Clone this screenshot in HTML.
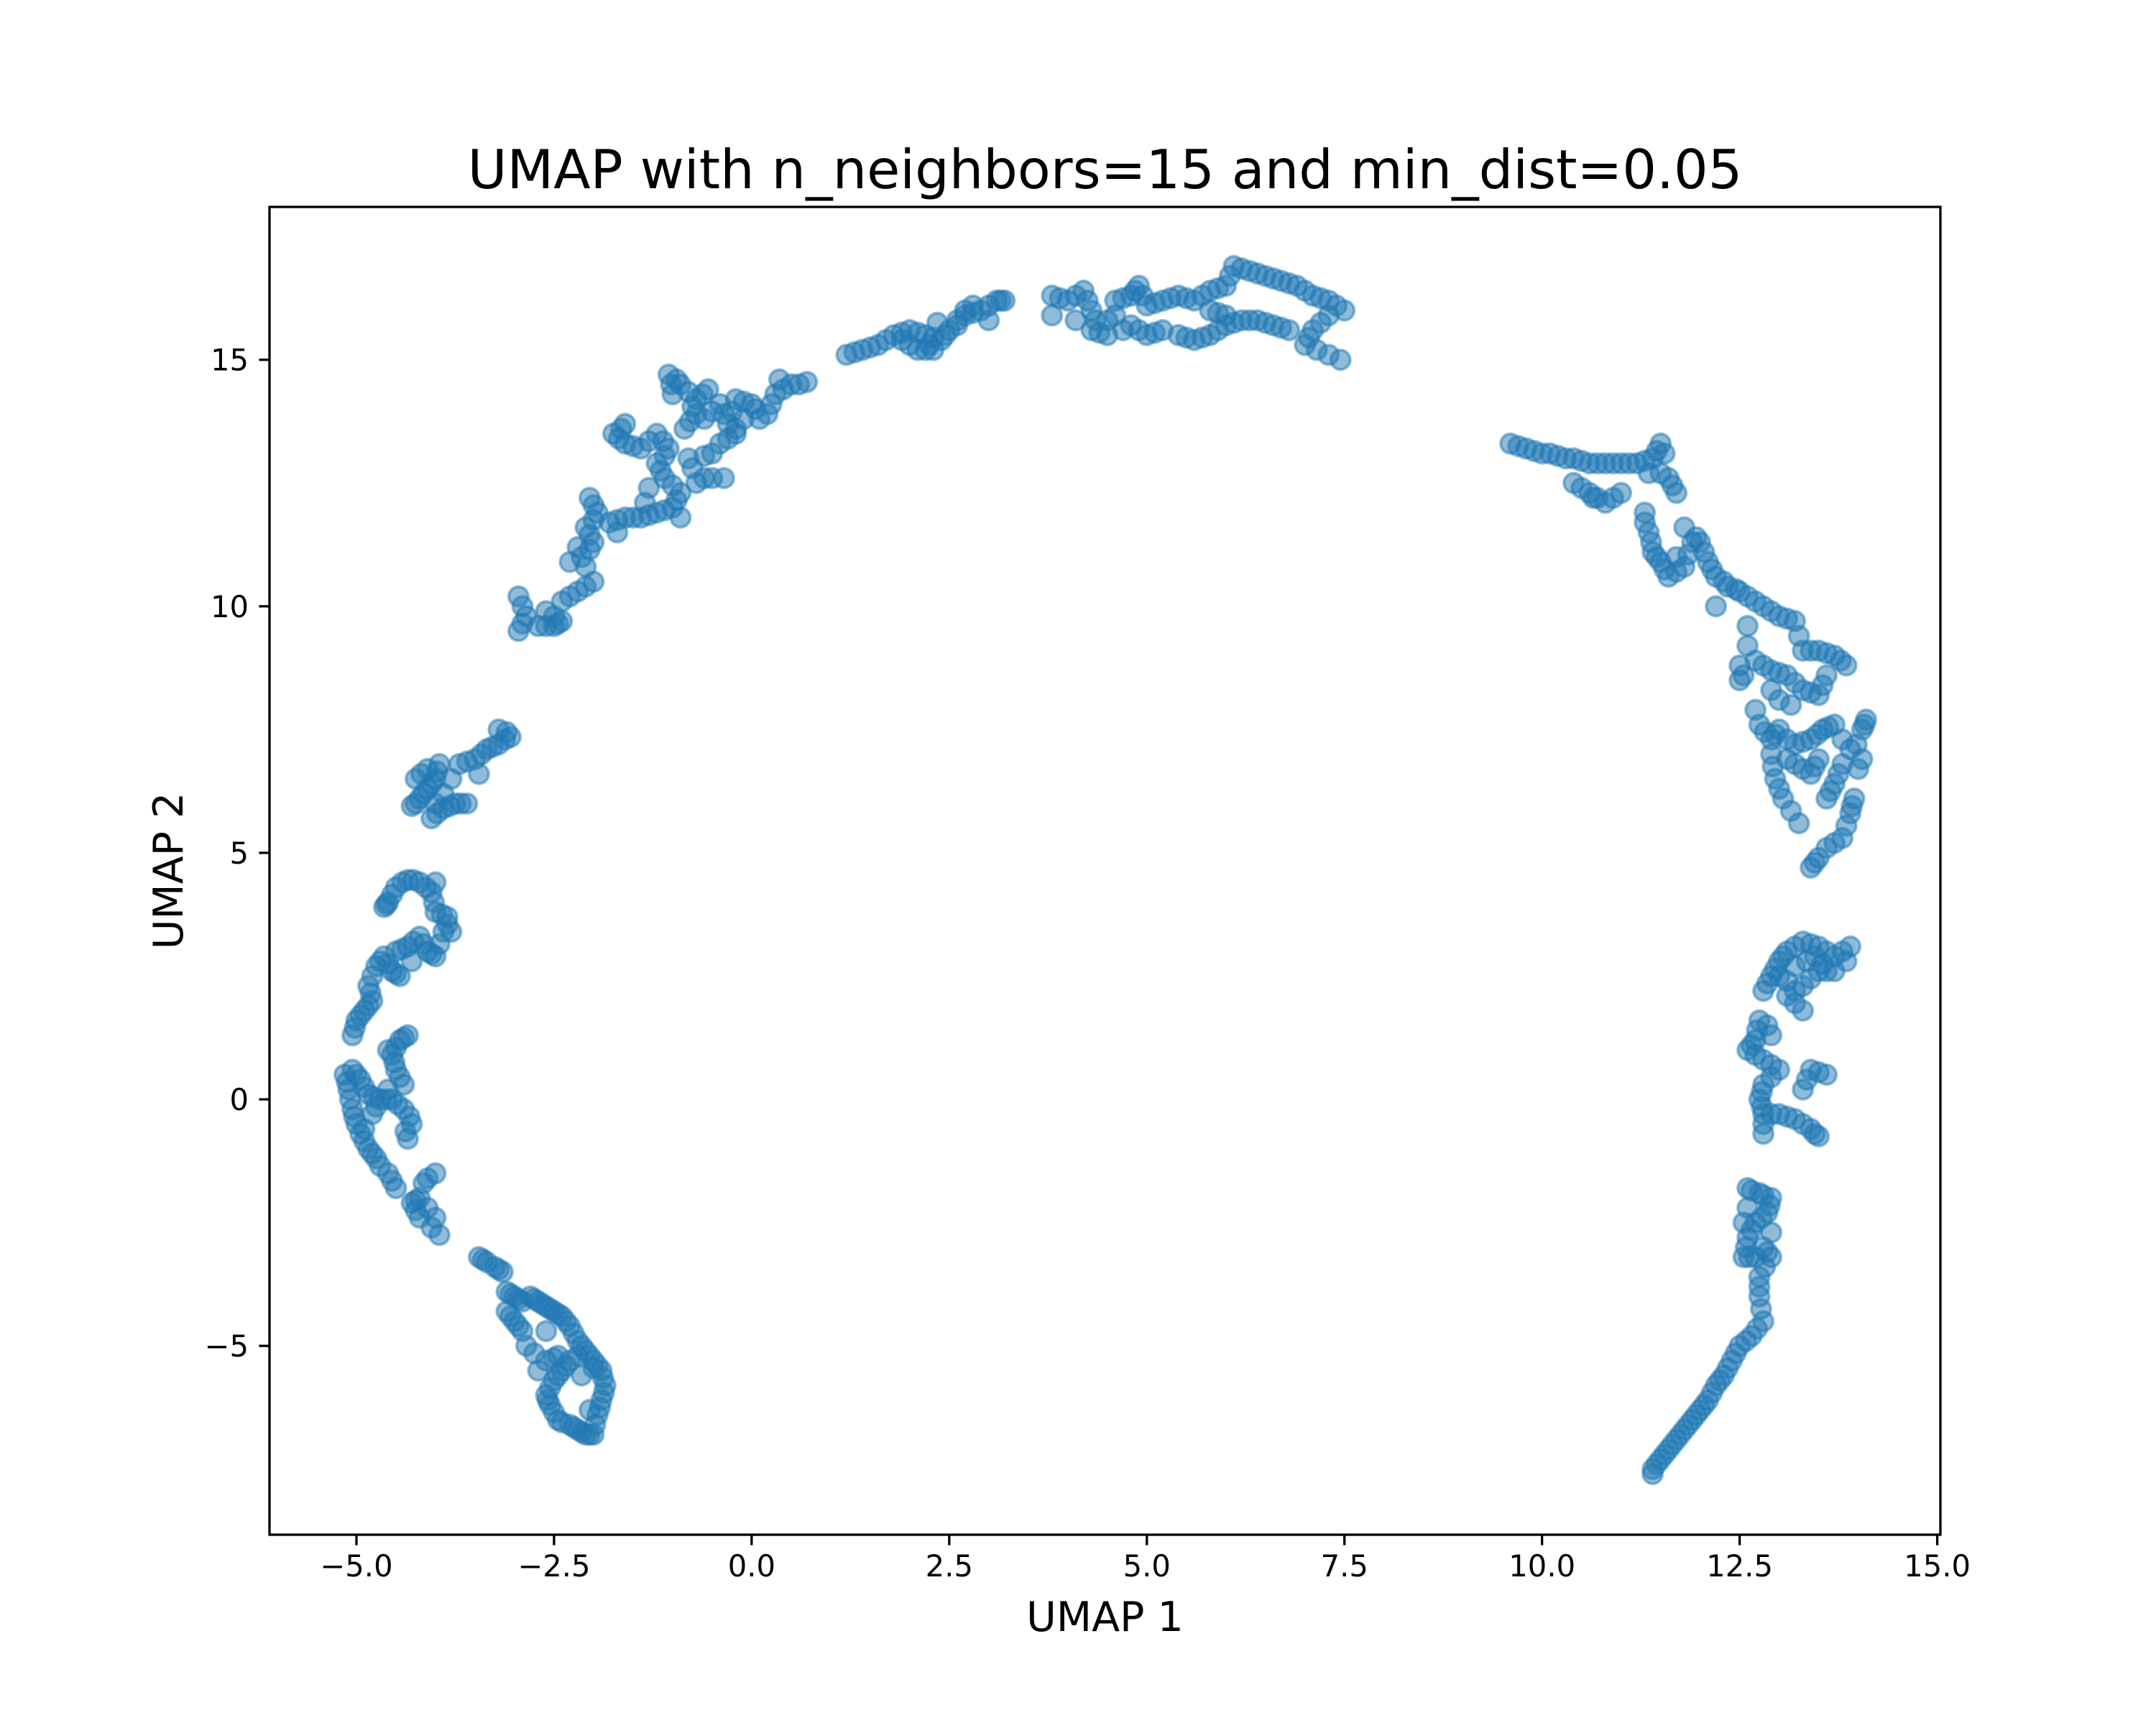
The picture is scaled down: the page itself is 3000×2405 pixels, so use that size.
<!DOCTYPE html>
<html><head><meta charset="utf-8"><style>
html,body{margin:0;padding:0;background:#fff}
svg text{font-family:"DejaVu Sans","Liberation Sans",sans-serif;fill:#000}
</style></head><body>
<svg id="chart" xmlns="http://www.w3.org/2000/svg" width="3000" height="2400" viewBox="0 0 3000 2400">
<rect x="0" y="0" width="3000" height="2400" fill="#fff"/>
<text x="1537.5" y="262" font-size="75" text-anchor="middle">UMAP with n_neighbors=15 and min_dist=0.05</text>
<g id="points"></g>
<g id="axes"></g>
<text x="1537.5" y="2270" font-size="57" text-anchor="middle">UMAP 1</text>
<text x="0" y="0" font-size="57" text-anchor="middle" transform="translate(254,1212) rotate(-90)">UMAP 2</text>
</svg>
<script>
const xTicks=[-5,-2.5,0,2.5,5,7.5,10,12.5,15];
const xTickLabels=["−5.0","−2.5","0.0","2.5","5.0","7.5","10.0","12.5","15.0"];
const yTicks=[-5,0,5,10,15];
const yTickLabels=["−5","0","5","10","15"];
const clusterA=[[-3.45,-3.2],[-3.35,-3.3],[-3.25,-3.4],[-3.15,-3.5],[-3.1,-3.9],[-3.0,-4.0],[-2.9,-4.1],[-2.8,-4.0],[-2.7,-4.1],[-2.6,-4.2],[-2.5,-4.3],[-2.4,-4.4],[-2.3,-4.6],[-2.2,-4.9],[-2.1,-5.1],[-2.0,-5.3],[-1.9,-5.5],[-1.85,-5.8],[-1.9,-6.1],[-1.95,-6.4],[-2.0,-6.8],[-2.1,-6.8],[-2.2,-6.7],[-2.3,-6.6],[-2.45,-6.5],[-2.55,-6.2],[-2.6,-6.0],[-2.5,-5.7],[-2.4,-5.5],[-2.3,-5.3],[-2.45,-5.2],[-2.6,-5.3],[-2.85,-5.0],[-2.9,-4.7],[-3.0,-4.5],[-3.1,-4.3],[-2.6,-4.7],[-2.15,-5.6],[-2.05,-6.3],[-2.7,-5.5]];
const clusterA2=[[-3.4,-3.25],[-3.2,-3.45],[-3.05,-3.95],[-2.95,-4.05],[-2.75,-4.05],[-2.55,-4.25],[-2.45,-4.35],[-2.35,-4.5],[-2.25,-4.75],[-2.15,-5.0],[-2.05,-5.2],[-1.95,-5.4],[-1.88,-5.65],[-1.87,-5.95],[-1.92,-6.25],[-1.98,-6.6],[-2.05,-6.8],[-2.15,-6.75],[-2.25,-6.65],[-2.4,-6.55],[-2.5,-6.35],[-2.58,-6.1],[-2.55,-5.85],[-2.45,-5.6],[-2.35,-5.4],[-2.5,-5.25],[-2.75,-5.15],[-2.95,-4.6],[-3.05,-4.4],[-2.65,-4.15],[-2.2,-5.2],[-2.0,-5.45]];
const clusterB=[[-3.95,-2.75],[-4.0,-2.4],[-4.1,-2.2],[-4.2,-2.0],[-4.3,-2.1],[-4.15,-1.7],[-4.0,-1.5],[-4.5,-1.8],[-4.6,-1.5],[-4.75,-1.2],[-4.85,-1.0],[-4.95,-0.7],[-5.0,-0.5],[-5.05,-0.2],[-5.1,0.2],[-5.15,0.5],[-5.05,0.6],[-4.95,0.4],[-4.85,0.1],[-4.7,0.0],[-4.55,0.0],[-4.4,-0.2],[-4.3,-0.5],[-4.4,0.3],[-4.5,0.6],[-4.55,0.9],[-4.45,1.2],[-4.35,1.3],[-4.6,1.0],[-5.05,1.3],[-5.0,1.6],[-4.9,1.8],[-4.8,2.0],[-4.85,2.3],[-4.75,2.7],[-4.65,2.9],[-4.55,2.6],[-4.45,2.5],[-4.5,3.0],[-4.35,3.1],[-4.2,3.3],[-4.1,3.0],[-4.0,2.9],[-3.9,3.4],[-3.8,3.4],[-3.85,3.7],[-4.0,3.8],[-4.05,4.2],[-4.2,4.4],[-4.35,4.45],[-4.5,4.3],[-4.6,4.0],[-4.65,3.9],[-4.0,4.4],[-4.3,2.8],[-4.6,0.2],[-4.35,-0.8],[-4.8,-0.3],[-4.9,-0.6],[-4.2,-2.4]];
const clusterB2=[[-4.05,-2.6],[-4.25,-2.05],[-4.1,-1.6],[-4.55,-1.65],[-4.7,-1.35],[-4.8,-1.1],[-4.9,-0.85],[-5.03,-0.35],[-5.08,0.0],[-5.12,0.35],[-5.0,0.5],[-4.9,0.25],[-4.78,0.05],[-4.62,0.0],[-4.48,-0.1],[-4.33,-0.35],[-4.45,0.45],[-4.52,0.75],[-4.5,1.05],[-4.4,1.25],[-5.02,1.45],[-4.95,1.7],[-4.85,1.9],[-4.82,2.15],[-4.8,2.5],[-4.7,2.8],[-4.6,2.75],[-4.5,2.55],[-4.42,3.05],[-4.28,3.2],[-4.15,3.15],[-4.05,2.95],[-3.95,3.15],[-3.85,3.55],[-3.92,3.75],[-4.02,4.0],[-4.12,4.3],[-4.28,4.45],[-4.42,4.4],[-4.55,4.15],[-4.62,3.95],[-4.25,-2.25],[-4.38,-0.65],[-4.75,-0.15]];
const clusterC=[[-4.3,5.95],[-4.2,6.1],[-4.1,6.3],[-4.0,6.5],[-3.95,6.8],[-4.1,6.7],[-4.25,6.5],[-4.05,5.7],[-3.9,5.9],[-3.75,6.0],[-3.6,6.0],[-3.7,6.8],[-3.5,6.9],[-3.35,7.1],[-3.2,7.2],[-3.05,7.35],[-3.2,7.5],[-3.45,6.6],[-3.9,6.2],[-4.0,6.0]];
const clusterC2=[[-4.25,6.0],[-4.15,6.2],[-4.05,6.4],[-3.98,6.65],[-4.18,6.6],[-3.98,5.8],[-3.82,5.95],[-3.68,6.0],[-3.6,6.85],[-3.42,7.0],[-3.28,7.15],[-3.12,7.3],[-3.1,7.45],[-3.8,6.5]];
const clusterD=[[-2.95,9.5],[-2.85,9.8],[-2.95,10.2],[-2.7,9.6],[-2.5,9.6],[-2.4,9.7],[-2.6,9.9],[-2.4,10.1],[-2.2,10.3],[-2.0,10.5],[-2.15,11.0],[-2.0,11.3],[-2.1,11.6],[-1.95,11.9],[-2.05,12.2],[-2.2,11.2],[-1.8,11.7],[-1.6,11.8],[-1.4,11.8],[-1.2,11.9],[-1.0,12.0],[-0.9,12.3],[-1.1,12.6],[-1.2,12.9],[-1.05,13.2],[-1.2,13.5],[-1.4,13.2],[-1.6,13.3],[-1.75,13.5],[-1.6,13.7],[-1.0,14.3],[-1.05,14.7],[-0.9,14.5],[-0.7,14.2],[-0.55,14.4],[-0.7,13.9],[-0.85,13.6],[-0.6,13.8],[-0.4,14.1],[-0.3,13.7],[-0.2,14.2],[0.0,14.1],[-0.1,13.8],[-0.5,13.1],[-0.8,13.0],[-0.4,13.3],[-0.2,13.5],[-0.35,12.6],[-0.6,12.6],[-0.9,11.8],[0.2,13.9],[0.3,14.3],[0.5,14.5],[0.7,14.55],[0.35,14.6],[-1.3,12.4],[-0.75,12.8],[-0.2,13.6],[-2.3,10.9],[-1.7,11.5]];
const clusterD2=[[-2.9,9.65],[-2.9,10.0],[-2.6,9.6],[-2.45,9.65],[-2.5,9.8],[-2.3,10.2],[-2.1,10.4],[-2.1,10.8],[-2.05,11.15],[-2.05,11.45],[-2.0,11.75],[-2.0,12.05],[-1.7,11.75],[-1.5,11.8],[-1.3,11.85],[-1.1,11.95],[-0.95,12.15],[-1.0,12.45],[-1.15,12.75],[-1.1,13.05],[-1.12,13.35],[-1.3,13.35],[-1.5,13.25],[-1.68,13.4],[-1.65,13.6],[-1.02,14.5],[-0.95,14.6],[-0.8,14.35],[-0.62,14.3],[-0.75,14.05],[-0.78,13.75],[-0.5,13.95],[-0.35,13.9],[-0.25,13.95],[-0.1,14.15],[0.05,14.0],[-0.6,13.05],[-0.3,13.4],[-0.5,12.6],[0.1,13.8],[0.25,14.1],[0.4,14.4],[0.6,14.5],[-1.35,12.1],[-0.7,12.5]];
const clusterE=[[1.2,15.1],[1.4,15.2],[1.6,15.3],[1.8,15.5],[2.0,15.6],[2.2,15.5],[2.4,15.4],[2.3,15.2],[2.1,15.2],[2.0,15.3],[2.5,15.6],[2.7,15.9],[2.9,16.0],[3.1,16.2],[3.2,16.2],[3.0,15.8],[2.8,16.1],[2.6,15.8],[2.35,15.75],[1.9,15.4]];
const clusterE2=[[1.3,15.15],[1.5,15.25],[1.7,15.4],[1.9,15.55],[2.1,15.55],[2.3,15.45],[2.2,15.2],[2.45,15.5],[2.6,15.7],[2.8,15.95],[3.0,16.1],[3.15,16.2],[2.7,16.0],[2.25,15.3]];
const clusterF=[[3.8,16.3],[3.8,15.9],[4.0,16.2],[4.2,16.4],[4.3,16.0],[4.3,15.6],[4.5,15.5],[4.6,16.2],[4.8,16.3],[4.9,16.5],[5.0,16.1],[4.8,15.7],[5.0,15.5],[5.2,15.6],[5.2,16.2],[5.4,16.3],[5.6,16.2],[5.8,16.4],[6.0,16.5],[6.1,16.9],[6.3,16.8],[6.5,16.7],[6.7,16.6],[6.9,16.5],[7.1,16.3],[7.3,16.2],[7.5,16.0],[7.3,15.9],[7.1,15.6],[7.0,15.3],[7.3,15.1],[7.45,15.0],[6.8,15.6],[6.6,15.7],[6.4,15.8],[6.2,15.8],[6.0,15.7],[5.8,15.5],[5.6,15.4],[5.4,15.5],[5.8,16.0],[6.0,15.9],[4.6,15.9],[4.1,15.8]];
const clusterF2=[[3.9,16.25],[4.1,16.3],[4.25,16.2],[4.35,15.8],[4.4,15.55],[4.7,16.25],[4.85,16.4],[4.95,16.3],[4.9,15.6],[5.1,15.55],[5.1,16.15],[5.3,16.25],[5.5,16.25],[5.7,16.3],[5.9,16.45],[6.05,16.7],[6.2,16.85],[6.4,16.75],[6.6,16.65],[6.8,16.55],[7.0,16.4],[7.2,16.25],[7.4,16.1],[7.2,15.75],[7.05,15.45],[7.15,15.2],[6.7,15.65],[6.5,15.75],[6.3,15.8],[6.1,15.75],[5.9,15.6],[5.7,15.45],[5.5,15.45],[5.9,15.95],[4.5,15.8],[4.7,15.6]];
const clusterG=[[9.6,13.3],[9.8,13.2],[10.0,13.1],[10.2,13.05],[10.4,13.0],[10.6,12.9],[10.8,12.9],[11.0,12.9],[11.2,12.9],[11.4,13.0],[11.5,13.3],[11.55,13.1],[11.35,12.7],[11.6,12.6],[11.7,12.3],[10.4,12.5],[10.6,12.3],[10.8,12.1],[10.7,12.2],[11.0,12.3],[11.3,11.9],[11.35,11.5],[11.4,11.1],[11.5,10.9],[11.6,10.6],[11.8,10.8],[11.9,11.3],[11.8,11.6],[12.0,11.3],[12.1,10.9],[12.2,10.6],[12.35,10.4],[12.5,10.3],[12.6,10.2],[12.8,10.0],[13.0,9.8],[13.2,9.7],[13.3,9.1],[13.5,9.1],[13.7,9.0],[13.85,8.8],[13.6,8.6],[13.5,8.2],[13.3,8.3],[13.1,8.6],[12.9,8.7],[12.7,8.9],[12.6,9.6],[12.5,8.5],[12.75,7.6],[12.9,7.3],[13.0,7.5],[13.2,7.2],[13.4,7.3],[13.55,7.5],[13.7,7.6],[13.9,7.1],[14.05,7.5],[14.1,7.7],[14.05,6.9],[13.8,6.8],[13.7,6.4],[13.6,6.1],[13.95,6.1],[13.9,5.8],[13.8,5.3],[13.6,5.1],[13.4,4.7],[13.5,4.9],[13.25,5.6],[13.05,6.1],[12.95,6.5],[12.9,7.0],[13.2,6.8],[13.4,6.6],[13.5,6.9],[13.0,8.1],[12.5,8.8],[12.2,10.0],[11.7,11.0]];
const clusterG2=[[9.7,13.25],[9.9,13.15],[10.1,13.1],[10.3,13.0],[10.5,12.95],[10.7,12.9],[10.9,12.9],[11.1,12.9],[11.3,12.95],[11.45,13.15],[11.5,12.7],[11.65,12.45],[10.5,12.4],[10.65,12.2],[10.9,12.2],[11.3,11.7],[11.38,11.3],[11.45,11.0],[11.55,10.75],[11.7,10.7],[11.85,11.05],[11.95,11.4],[12.05,11.1],[12.15,10.75],[12.3,10.5],[12.45,10.35],[12.7,10.1],[12.9,9.9],[13.1,9.75],[13.25,9.4],[13.4,9.1],[13.6,9.05],[13.78,8.9],[13.55,8.4],[13.4,8.25],[13.2,8.45],[13.0,8.65],[12.8,8.8],[12.6,9.2],[12.55,8.6],[12.7,7.9],[12.82,7.45],[12.95,7.4],[13.1,7.3],[13.3,7.25],[13.48,7.4],[13.62,7.55],[13.8,7.3],[13.98,7.2],[14.08,7.6],[14.0,6.7],[13.75,6.6],[13.65,6.25],[13.92,5.95],[13.85,5.55],[13.7,5.2],[13.45,4.8],[13.15,5.85],[13.0,6.3],[12.92,6.75],[13.1,6.9],[13.3,6.7],[13.45,6.75],[13.15,8.0],[12.9,8.3]];
const clusterH=[[12.8,2.2],[12.9,2.5],[13.0,2.8],[13.1,3.0],[13.3,3.2],[13.5,3.1],[13.7,2.9],[13.9,3.1],[13.7,2.6],[13.5,2.6],[13.3,2.3],[13.1,2.1],[13.3,1.8],[13.0,2.5],[13.2,2.7],[13.45,2.9],[12.75,1.6],[12.7,1.2],[12.6,1.0],[12.8,0.8],[13.0,0.6],[12.8,0.3],[12.75,0.0],[12.8,-0.3],[12.8,-0.7],[13.0,-0.3],[13.2,-0.4],[13.4,-0.6],[13.5,-0.75],[13.6,0.5],[13.4,0.6],[13.3,0.2],[12.9,1.3]];
const clusterH2=[[12.85,2.35],[12.95,2.65],[13.05,2.9],[13.2,3.1],[13.4,3.15],[13.6,3.0],[13.8,3.0],[13.85,2.8],[13.6,2.6],[13.4,2.45],[13.2,2.2],[13.2,1.95],[13.1,2.4],[13.35,2.8],[13.55,2.75],[12.72,1.4],[12.65,1.1],[12.7,0.9],[12.9,0.7],[12.9,0.45],[12.78,0.15],[12.78,-0.15],[12.8,-0.5],[12.9,-0.3],[13.1,-0.35],[13.3,-0.5],[13.45,-0.7],[13.5,0.55],[13.35,0.4],[12.85,1.5]];
const clusterI=[[12.6,-1.8],[12.75,-1.9],[12.9,-2.0],[12.85,-2.3],[12.7,-2.5],[12.6,-2.8],[12.55,-3.2],[12.7,-3.2],[12.8,-3.0],[12.9,-3.2],[12.75,-3.6],[12.75,-4.0],[12.8,-4.5],[12.65,-4.8],[12.5,-5.0],[12.4,-5.3],[12.3,-5.6],[12.2,-5.8],[12.1,-6.1],[12.0,-6.3],[11.9,-6.5],[11.8,-6.7],[11.7,-6.9],[11.6,-7.1],[11.5,-7.3],[11.4,-7.5],[12.6,-2.2],[12.55,-2.5],[12.9,-2.7]];
const clusterI2=[[12.65,-1.85],[12.8,-1.95],[12.88,-2.15],[12.78,-2.4],[12.65,-2.65],[12.58,-3.0],[12.62,-3.2],[12.85,-3.1],[12.82,-3.4],[12.75,-3.8],[12.77,-4.25],[12.72,-4.65],[12.58,-4.9],[12.45,-5.15],[12.35,-5.45],[12.25,-5.7],[12.15,-5.95],[12.05,-6.2],[11.95,-6.4],[11.85,-6.6],[11.75,-6.8],[11.65,-7.0],[11.55,-7.2],[11.45,-7.4],[11.4,-7.6]];

const NS="http://www.w3.org/2000/svg";
const L=375,R=2700,T=288,B=2136,XMIN=-6.1,XMAX=15.04,YMIN=-8.83,YMAX=18.1;
function sx(v){return L+(v-XMIN)/(XMAX-XMIN)*(R-L);}
function sy(v){return B-(v-YMIN)/(YMAX-YMIN)*(B-T);}
function mk(tag,attrs){const e=document.createElementNS(NS,tag);for(const k in attrs)e.setAttribute(k,attrs[k]);return e;}

const pg=document.getElementById('points');
[clusterA,clusterA2,clusterB,clusterB2,clusterC,clusterC2,clusterD,clusterD2,clusterE,clusterE2,clusterF,clusterF2,clusterG,clusterG2,clusterH,clusterH2,clusterI,clusterI2].forEach(cl=>{
  cl.forEach(p=>{
    const c=mk('circle',{cx:sx(p[0]),cy:sy(p[1]),r:13.5,fill:'#1f77b4','fill-opacity':0.5,stroke:'#1f77b4','stroke-opacity':0.5,'stroke-width':4});
    
    
    pg.appendChild(c);
  });
});

const ax=document.getElementById('axes');
const frame=mk('rect',{x:L,y:T,width:R-L,height:B-T,fill:'none',stroke:'#000','stroke-width':3.3});


ax.appendChild(frame);
xTicks.forEach((v,i)=>{
  const x=sx(v);
  const t=mk('line',{x1:x,x2:x,y1:B,y2:B+14.6,stroke:'#000','stroke-width':3.3});
  
  
  ax.appendChild(t);
  const tx=mk('text',{x:x,y:B+58,'font-size':41.7,'text-anchor':'middle'});
  tx.textContent=xTickLabels[i];
  
  
  ax.appendChild(tx);
});
yTicks.forEach((v,i)=>{
  const y=sy(v);
  const t=mk('line',{x1:L-14.6,x2:L,y1:y,y2:y,stroke:'#000','stroke-width':3.3});
  
  
  ax.appendChild(t);
  const tx=mk('text',{x:L-29,y:y+15,'font-size':41.7,'text-anchor':'end'});
  tx.textContent=yTickLabels[i];
  
  
  ax.appendChild(tx);
});
</script>
</body></html>
